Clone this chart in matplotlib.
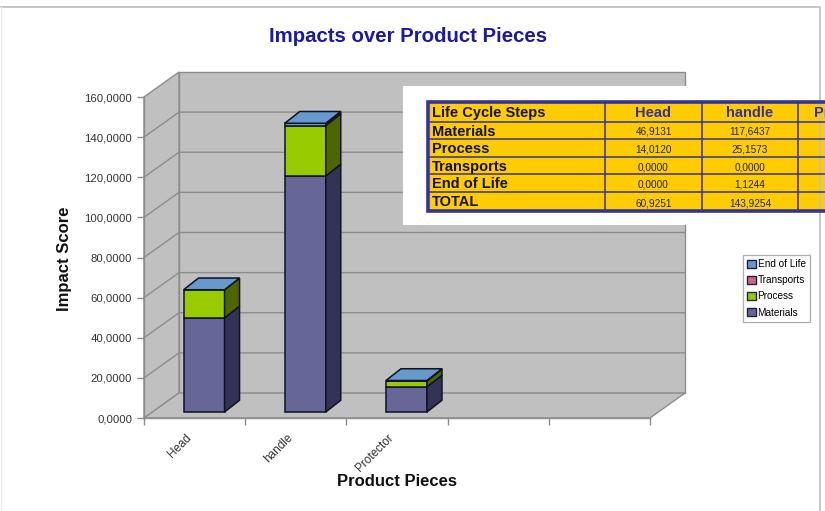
import matplotlib
matplotlib.use('Agg')
import matplotlib.pyplot as plt
from matplotlib.patches import Polygon, Rectangle, Patch

plt.rcParams['font.family'] = ['Liberation Sans', 'DejaVu Sans']

categories = ['Head', 'handle', 'Protector']
materials = [46.9131, 117.6437, 12.5]
process = [14.0120, 25.1573, 3.0]
transports = [0.0, 0.0, 0.0]
end_of_life = [0.0, 1.1244, 0.2]
series_names = ['Materials', 'Process', 'Transports', 'End of Life']
series_values = [materials, process, transports, end_of_life]
totals = [60.9251, 143.9254]
yticks = [0, 20, 40, 60, 80, 100, 120, 140, 160]

# front, side colours
colors = {'Materials': ('#666699', '#333355'),
          'Process': ('#99CC00', '#4D6600'),
          'Transports': ('#CC6688', '#663344'),
          'End of Life': ('#6699CC', '#335577')}

W, H = 825, 511
fig = plt.figure(figsize=(W / 100, H / 100), dpi=100, facecolor='white')


def box(x0, y0, x1, y1):
    return [x0 / W, 1 - y1 / H, (x1 - x0) / W, (y1 - y0) / H]


# front plane of the 3d box
ax = fig.add_axes(box(144, 97, 650, 418))
ax.set_xlim(0, 5)
ax.set_ylim(0, 160)
ax.patch.set_visible(False)
for s in ['top', 'right', 'left', 'bottom']:
    ax.spines[s].set_visible(False)

# depth of the box in data units
DX = 35 / (506 / 5)
DY = 25 / (321 / 160)
wall = '#C0C0C0'
grid = '#8C8C8C'

ax.add_patch(Polygon([(DX, DY), (DX, 160 + DY), (5 + DX, 160 + DY), (5 + DX, DY)],
                     fc=wall, ec=grid, lw=1.0, clip_on=False, zorder=1))
ax.add_patch(Polygon([(0, 0), (0, 160), (DX, 160 + DY), (DX, DY)],
                     fc=wall, ec=grid, lw=1.0, clip_on=False, zorder=1))
ax.add_patch(Polygon([(0, 0), (5, 0), (5 + DX, DY), (DX, DY)],
                     fc=wall, ec=grid, lw=1.0, clip_on=False, zorder=1))
for v in yticks[1:-1]:
    ax.plot([0, DX, 5 + DX], [v, v + DY, v + DY], color=grid, lw=1.0,
            clip_on=False, zorder=2)

# bars, standing part way into the depth
f0 = 0.24
f1 = 0.71
bar_w = 41 / (506 / 5)
edge = '#111122'
for i in range(len(categories)):
    x0 = i + 0.5 - bar_w / 2 + 0.27 * DX
    x1 = x0 + bar_w
    ox = 15 / (506 / 5)
    oy = (f1 - f0) * DY
    base = f0 * DY
    bottom = 0
    for name, vals in zip(series_names, series_values):
        h = vals[i]
        if h <= 0:
            continue
        front, side = colors[name]
        ax.bar(x0, h, bar_w, bottom=base + bottom, align='edge', color=front,
               edgecolor=edge, lw=1.1, clip_on=False, zorder=4)
        ax.add_patch(Polygon([(x1, base + bottom), (x1 + ox, base + bottom + oy),
                              (x1 + ox, base + bottom + h + oy), (x1, base + bottom + h)],
                             fc=side, ec=edge, lw=1.1, clip_on=False, zorder=4))
        bottom += h
    top = base + bottom
    ax.add_patch(Polygon([(x0, top), (x1, top), (x1 + ox, top + oy), (x0 + ox, top + oy)],
                         fc=colors['End of Life'][0], ec=edge, lw=1.1,
                         clip_on=False, zorder=5))

# axes ticks and labels
ax.set_yticks(yticks)
ax.set_yticklabels(['%d,0000' % v for v in yticks], fontsize=8.2, color='#333333')
ax.set_xticks([0, 1, 2, 3, 4, 5])
ax.set_xticklabels([])
ax.set_xticks([0.41, 1.41, 2.41], minor=True)
ax.set_xticklabels(categories, minor=True, rotation=45, ha='right', rotation_mode='anchor',
                   fontsize=8.5, color='#333333')
ax.tick_params(axis='x', which='minor', length=0, pad=10)
ax.tick_params(axis='both', which='major', length=5, color=grid, width=1.0)
ax.plot([0, 0], [0, 160], color=grid, lw=1.0, clip_on=False, zorder=3)
ax.plot([0, 5], [0, 0], color=grid, lw=1.0, clip_on=False, zorder=3)

fig.text(408 / W, 1 - 37 / H, 'Impacts over Product Pieces', color='#1A1AA6', fontsize=14.7,
         fontweight='bold', ha='center', va='center')
fig.text(65 / W, 1 - 259 / H, 'Impact Score', rotation=90, fontsize=12, fontweight='bold',
         ha='center', va='center', color='#111111')
fig.text(397 / W, 1 - 481 / H, 'Product Pieces', fontsize=12, fontweight='bold',
         ha='center', va='center', color='#111111')

# legend
handles = [Patch(fc=colors[n][0], ec='#222233', lw=1.0, label=n) for n in reversed(series_names)]
leg = fig.legend(handles=handles, loc='upper left', bbox_to_anchor=(743 / W, 1 - 255 / H),
                 fontsize=7.2, frameon=True, fancybox=False, edgecolor='#999999',
                 borderaxespad=0, borderpad=0.4, labelspacing=0.62, handlelength=0.85,
                 handleheight=0.85, handletextpad=0.2)
leg.get_frame().set_linewidth(0.9)

# pasted table and the page frame, in pixel coordinates
ov = fig.add_axes([0, 0, 1, 1])
ov.set_xlim(0, W)
ov.set_ylim(H, 0)
ov.axis('off')
ov.patch.set_visible(False)

ov.plot([0, 820, 820], [7, 7, 511], color='#BDBDBD', lw=1.2)
ov.plot([1, 1], [7, 511], color='#EFEFEF', lw=1.0)

row_labels = ['Life Cycle Steps', 'Materials', 'Process', 'Transports', 'End of Life', 'TOTAL']
table_rows = [materials[:2], process[:2], transports[:2], end_of_life[:2], totals]
col_edges = [605, 702, 798, 895]
row_edges = [102, 122, 139, 157, 174, 192, 211]
line = '#33339A'

ov.add_patch(Rectangle((403, 86), 422, 139, fc='white', ec='none'))
ov.add_patch(Rectangle((428, 102), 397, 109, fc='#FFCC00', ec='none'))
for y in row_edges[1:-1]:
    ov.plot([428, 825], [y, y], color=line, lw=1.1)
for x in col_edges[:-1]:
    ov.plot([x, x], [102, 211], color=line, lw=1.1)
ov.plot([825, 428, 428, 825], [102, 102, 211, 211], color=line, lw=2.6, solid_joinstyle='miter')
for r, label in enumerate(row_labels):
    yc = (row_edges[r] + row_edges[r + 1]) / 2
    ov.text(432, yc + 1, label, fontsize=10.5, fontweight='bold', va='center', color='#111111')
for c, name in enumerate(categories):
    xc = (col_edges[c] + col_edges[c + 1]) / 2
    ov.text(xc, 113, name, fontsize=10.5, fontweight='bold', color='#33339A',
            ha='center', va='center', clip_on=True)
for r, row in enumerate(table_rows):
    yc = (row_edges[r + 1] + row_edges[r + 2]) / 2
    for c, val in enumerate(row):
        xc = (col_edges[c] + col_edges[c + 1]) / 2
        ov.text(xc, yc + 1.5, ('%.4f' % val).replace('.', ','), fontsize=7.2, color='#222222',
                ha='center', va='center', clip_on=True)

fig.savefig('out.png', dpi=100, facecolor='white')
